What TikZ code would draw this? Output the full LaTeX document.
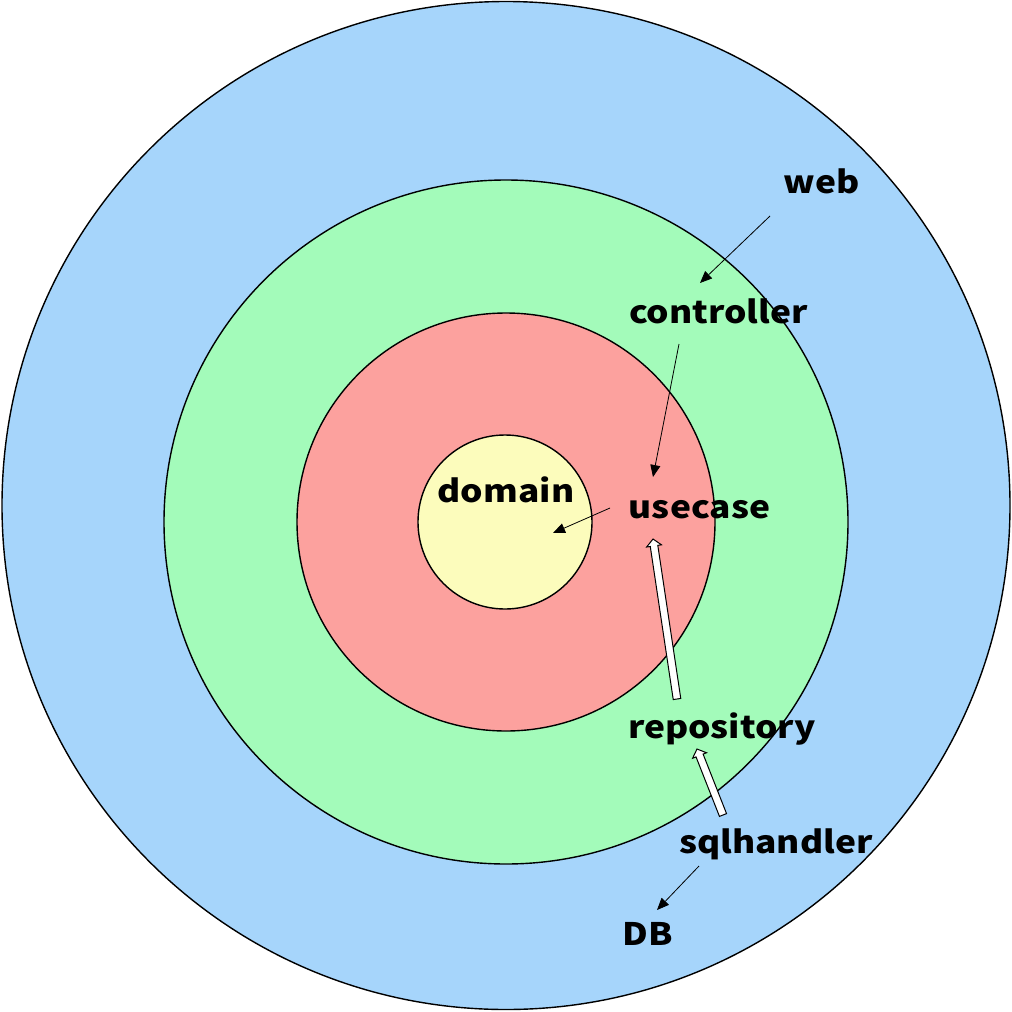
\documentclass[tikz,border=0pt]{standalone}
\usepackage{fontspec}
\newfontfamily\lab{Noto Sans CJK JP}[FakeStretch=1.14]
\usetikzlibrary{calc,arrows.meta}
\definecolor{cblue}{HTML}{A6D5FB}
\definecolor{cgreen}{HTML}{A3FBBA}
\definecolor{cred}{HTML}{FCA19E}
\definecolor{cyellow}{HTML}{FCFCBC}
\tikzset{
  ring/.style={draw=black, line width=1.4pt},
  lbl/.style={anchor=base, inner sep=0pt, font=\lab\bfseries\fontsize{31}{31}\selectfont},
  thinarrow/.style={draw=black, line width=0.8pt, -{Triangle[length=12pt,width=10pt]}},
  hollow/.style={draw=black, fill=white, line width=1pt, line join=miter},
}
\newcommand{\hollowarrow}[2]{%
  \coordinate (HH) at ($(#2)!7pt!(#1)$);
  \draw[hollow] ($(#1)!3.8pt!90:(#2)$) -- ($(HH)!3.8pt!90:(#2)$) -- ($(HH)!7.5pt!90:(#2)$) -- (#2)
    -- ($(HH)!7.5pt!-90:(#2)$) -- ($(HH)!3.8pt!-90:(#2)$) -- ($(#1)!3.8pt!-90:(#2)$) -- cycle;
}
\begin{document}
\begin{tikzpicture}[x=1pt,y=-1pt]
\useasboundingbox (0,0) rectangle (1012,1012);
% rings
\draw[ring, fill=cblue] (506,505.5) circle[radius=504];
\draw[ring, fill=cgreen] (506,522) circle[radius=342];
\draw[ring, fill=cred] (506,522) circle[radius=209];
\draw[ring, fill=cyellow] (505,522) circle[radius=87];
% labels
\node[lbl] (web) at (821.5,193) {web};
\node[lbl] (controller) at (718.5,323) {controller};
\node[lbl] (domain) at (506,502) {domain};
\node[lbl] (usecase) at (699.5,518) {usecase};
\node[lbl] (repository) at (722,738) {repository};
\node[lbl] (sqlhandler) at (776,853) {sqlhandler};
\node[lbl] (db) at (647.5,945) {DB};
% connector ends
\coordinate (web-s) at (770,216);
\coordinate (ctrl-t) at (700,283);
\coordinate (ctrl-s) at (679,344);
\coordinate (uc-t) at (653,477);
\coordinate (uc-s) at (610,508);
\coordinate (dom-t) at (553,533);
\coordinate (repo-s) at (677,699);
\coordinate (uc-b) at (653,539);
\coordinate (sql-s) at (723,815);
\coordinate (repo-t) at (697,749);
\coordinate (sql-d) at (699,866);
\coordinate (db-t) at (657,910);
% connectors
\draw[thinarrow] (web-s) -- (ctrl-t);
\draw[thinarrow] (ctrl-s) -- (uc-t);
\draw[thinarrow] (uc-s) -- (dom-t);
\draw[thinarrow] (sql-d) -- (db-t);
\hollowarrow{repo-s}{uc-b}
\hollowarrow{sql-s}{repo-t}
\end{tikzpicture}
\end{document}
